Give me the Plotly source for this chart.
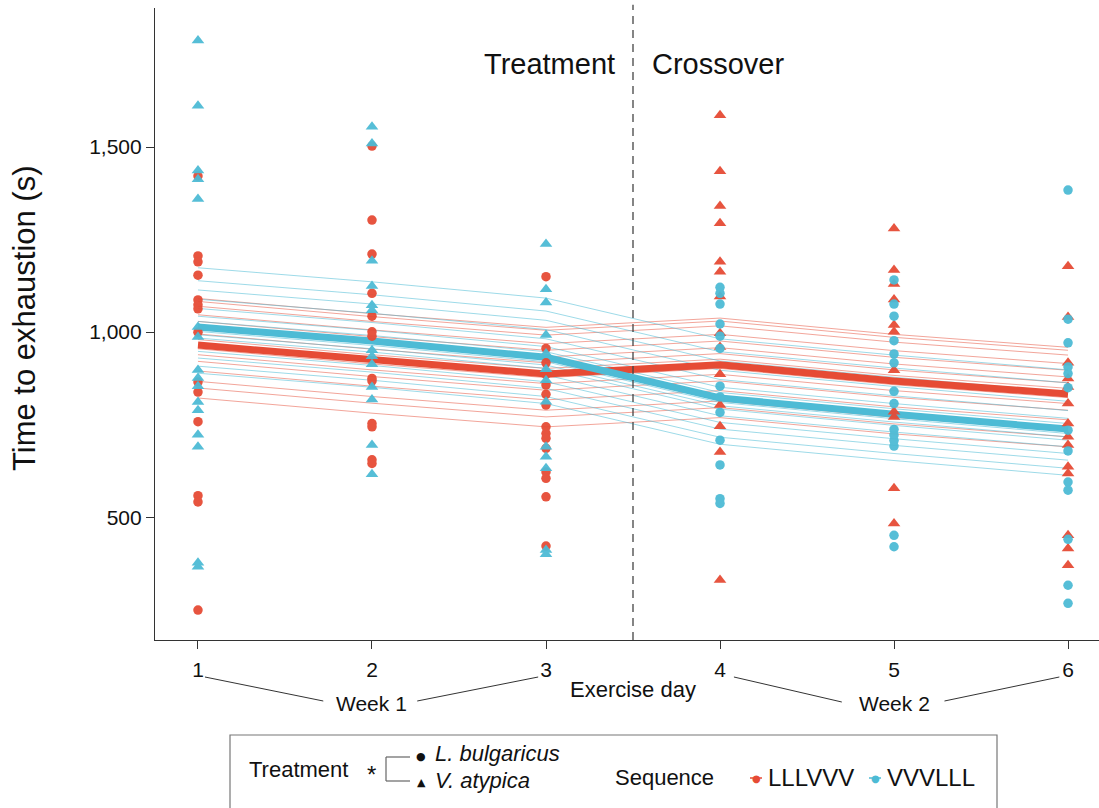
import plotly.graph_objects as go

# ---------------- data ----------------
days = [1, 2, 3, 4, 5, 6]
day_labels = ["1", "2", "3", "4", "5", "6"]
y_ticks = [500, 1000, 1500]
y_tick_labels = ["500", "1,000", "1,500"]

sequences = ["LLLVVV", "VVVLLL"]

# model-estimated group means per exercise day
mean_LLLVVV = [965, 924, 887, 912, 868, 833]
mean_VVVLLL = [1014, 976, 932, 822, 778, 738]

# per-mouse random-intercept offsets (fitted individual lines)
offsets_LLLVVV = [126, 118, 105, 82, 64, 46, 30, 15, -10, -26, -44, -70, -98, -116, -143]
offsets_VVVLLL = [160, 125, 100, 75, 50, 29, 15, -12, -21, -30, -48, -66, -84, -106, -125]

# observed time to exhaustion (s) per day
red_day1 = [1422, 1206, 1190, 1154, 1087, 1074, 1063, 1000, 865, 838, 758, 558, 541, 249]
red_day2 = [1503, 1303, 1211, 1105, 1043, 1001, 989, 875, 868, 753, 744, 655, 645]
red_day3 = [1150, 956, 917, 886, 857, 832, 803, 744, 726, 713, 686, 622, 605, 555, 422]
red_day4 = [1586, 1435, 1341, 1294, 1190, 1163, 1096, 997, 960, 886, 803, 746, 676, 330]
red_day5 = [1280, 1168, 1130, 1088, 1019, 1001, 897, 785, 771, 578, 483]
red_day6 = [1178, 1041, 917, 875, 852, 807, 753, 717, 695, 636, 618, 451, 415, 370]

blue_day1 = [1788, 1612, 1437, 1413, 1360, 1014, 987, 898, 876, 854, 811, 789, 723, 690, 377, 366]
blue_day2 = [1555, 1510, 1193, 1125, 1073, 1059, 951, 935, 913, 852, 818, 695, 616]
blue_day3 = [1238, 1116, 1080, 992, 942, 900, 870, 812, 690, 663, 632, 411, 400]
blue_day4 = [1121, 1105, 1076, 1022, 989, 956, 854, 825, 783, 708, 641, 550, 537]
blue_day5 = [1141, 1076, 1043, 977, 941, 917, 840, 807, 737, 722, 707, 692, 451, 420]
blue_day6 = [1384, 1035, 971, 906, 888, 850, 735, 679, 595, 573, 440, 316, 267]

# ---------------- styling ----------------
RED = "#E64B35"
BLUE = "#4DBBD5"
RED_T = "rgba(230,75,53,0.5)"
BLUE_T = "rgba(77,187,213,0.55)"
AX = "#333333"
FONT = "Liberation Sans, Arial, Helvetica, sans-serif"
symbol_for = {"L": "circle", "V": "triangle-up"}

fig = go.Figure()

groups = [
    ("LLLVVV", mean_LLLVVV, offsets_LLLVVV, RED, RED_T,
     [red_day1, red_day2, red_day3, red_day4, red_day5, red_day6]),
    ("VVVLLL", mean_VVVLLL, offsets_VVVLLL, BLUE, BLUE_T,
     [blue_day1, blue_day2, blue_day3, blue_day4, blue_day5, blue_day6]),
]

# thin individual fitted lines
for seq, means, offs, col, colt, obs in groups:
    for o in offs:
        fig.add_trace(go.Scatter(
            x=days, y=[m + o for m in means], mode="lines",
            line=dict(color=colt, width=1), hoverinfo="skip", showlegend=False))

# thick mean lines
for seq, means, offs, col, colt, obs in groups:
    fig.add_trace(go.Scatter(
        x=days, y=means, mode="lines", line=dict(color=col, width=7),
        name=seq, showlegend=False))

# observed points
for seq, means, offs, col, colt, obs in groups:
    for d, vals in zip(days, obs):
        sym = symbol_for[seq[d - 1]]
        fig.add_trace(go.Scatter(
            x=[d] * len(vals), y=vals, mode="markers",
            marker=dict(symbol=sym, color=col, size=11 if sym != "circle" else 9.5,
                        line=dict(width=0)),
            opacity=0.95, showlegend=False, name=seq))

# crossover line
fig.add_shape(type="line", xref="x", yref="paper", x0=3.5, x1=3.5, y0=0, y1=1.005,
              line=dict(color="#444444", width=1.3, dash="8px,6px"))

annotations = []
annotations.append(dict(x=3.5, y=1724, xref="x", yref="y", text="Treatment",
                        xanchor="right", yanchor="middle", xshift=-16, showarrow=False,
                        font=dict(size=29, color="#111111", family=FONT)))
annotations.append(dict(x=3.5, y=1724, xref="x", yref="y", text="Crossover",
                        xanchor="left", yanchor="middle", xshift=17, showarrow=False,
                        font=dict(size=29, color="#111111", family=FONT)))

# y title
annotations.append(dict(x=-0.1377, y=0.5095, xref="paper", yref="paper",
                        text="Time to exhaustion (s)", textangle=-90, showarrow=False,
                        xanchor="center", yanchor="middle",
                        font=dict(size=31, color="#111111", family=FONT)))

# x title and week brackets
PH = 632.0
def py(pix):
    return (640 - pix) / PH
def px(pix):
    return (pix - 155) / 944.0

annotations.append(dict(x=3.5, y=py(689), xref="x", yref="paper", text="Exercise day",
                        showarrow=False, xanchor="center", yanchor="middle",
                        font=dict(size=22, color="#111111", family=FONT)))
annotations.append(dict(x=2, y=py(703), xref="x", yref="paper", text="Week 1",
                        showarrow=False, xanchor="center", yanchor="middle",
                        font=dict(size=21, color="#111111", family=FONT)))
annotations.append(dict(x=5, y=py(703), xref="x", yref="paper", text="Week 2",
                        showarrow=False, xanchor="center", yanchor="middle",
                        font=dict(size=21, color="#111111", family=FONT)))

for (xa, ya, xb, yb) in [(1.04, 677, 1.72, 701), (2.26, 701, 2.955, 677),
                         (4.08, 677, 4.70, 702), (5.29, 701, 5.95, 677)]:
    fig.add_shape(type="line", xref="x", yref="paper", x0=xa, x1=xb, y0=py(ya), y1=py(yb),
                  line=dict(color="#333333", width=1))

# legend box
fig.add_shape(type="rect", xref="paper", yref="paper", x0=px(230), x1=px(997),
              y0=py(735), y1=py(830), line=dict(color="#777777", width=1.2),
              fillcolor="rgba(0,0,0,0)")

LF = dict(size=22, color="#111111", family=FONT)
annotations.append(dict(x=px(247), y=py(769), xref="paper", yref="paper", text="Treatment",
                        showarrow=False, xanchor="left", yanchor="middle", font=LF))
annotations.append(dict(x=px(371), y=py(774), xref="paper", yref="paper", text="*",
                        showarrow=False, xanchor="center", yanchor="middle",
                        font=dict(size=24, color="#111111", family=FONT)))
for (xa, ya, xb, yb) in [(386, 757, 386, 781), (386, 757, 410, 757), (386, 781, 410, 781)]:
    fig.add_shape(type="line", xref="paper", yref="paper", x0=px(xa), x1=px(xb),
                  y0=py(ya), y1=py(yb), line=dict(color="#666666", width=1.2))
annotations.append(dict(x=px(421), y=py(757), xref="paper", yref="paper", text="●",
                        showarrow=False, xanchor="center", yanchor="middle",
                        font=dict(size=11, color="#111111", family="DejaVu Sans")))
annotations.append(dict(x=px(421), y=py(782), xref="paper", yref="paper", text="▲",
                        showarrow=False, xanchor="center", yanchor="middle",
                        font=dict(size=11, color="#111111", family="DejaVu Sans")))
annotations.append(dict(x=px(433), y=py(753), xref="paper", yref="paper",
                        text="<i>L. bulgaricus</i>", showarrow=False, xanchor="left",
                        yanchor="middle", font=LF))
annotations.append(dict(x=px(433), y=py(780), xref="paper", yref="paper",
                        text="<i>V. atypica</i>", showarrow=False, xanchor="left",
                        yanchor="middle", font=LF))
annotations.append(dict(x=px(613), y=py(777), xref="paper", yref="paper", text="Sequence",
                        showarrow=False, xanchor="left", yanchor="middle", font=LF))
for cx, col, lab in [(756, RED, sequences[0]), (875, BLUE, sequences[1])]:
    fig.add_shape(type="line", xref="paper", yref="paper", x0=px(cx - 6), x1=px(cx + 6),
                  y0=py(778), y1=py(778), line=dict(color=col, width=1.5))
    annotations.append(dict(x=px(cx), y=py(778), xref="paper", yref="paper", text="●",
                            showarrow=False, xanchor="center", yanchor="middle",
                            font=dict(size=10, color=col, family="DejaVu Sans")))
    annotations.append(dict(x=px(cx + 10), y=py(777), xref="paper", yref="paper", text=lab,
                            showarrow=False, xanchor="left", yanchor="middle",
                            font=dict(size=24, color="#111111", family=FONT)))

fig.update_layout(
    width=1099, height=808,
    margin=dict(l=155, r=0, t=8, b=168, pad=0),
    plot_bgcolor="white", paper_bgcolor="white",
    font=dict(family=FONT, color="#111111"),
    showlegend=False,
    annotations=annotations,
    xaxis=dict(range=[0.753, 6.178], tickvals=days, ticktext=day_labels,
               ticks="outside", ticklen=8, tickwidth=1.2, tickcolor=AX,
               showline=True, linecolor=AX, linewidth=1.2, showgrid=False, zeroline=False,
               tickfont=dict(size=21, color="#111111", family=FONT), ticklabelstandoff=3),
    yaxis=dict(range=[168, 1876], tickvals=y_ticks, ticktext=y_tick_labels,
               ticks="outside", ticklen=8, tickwidth=1.2, tickcolor=AX,
               showline=True, linecolor=AX, linewidth=1.2, showgrid=False, zeroline=False,
               tickfont=dict(size=21, color="#111111", family=FONT)),
)

fig.write_html("out.html")
